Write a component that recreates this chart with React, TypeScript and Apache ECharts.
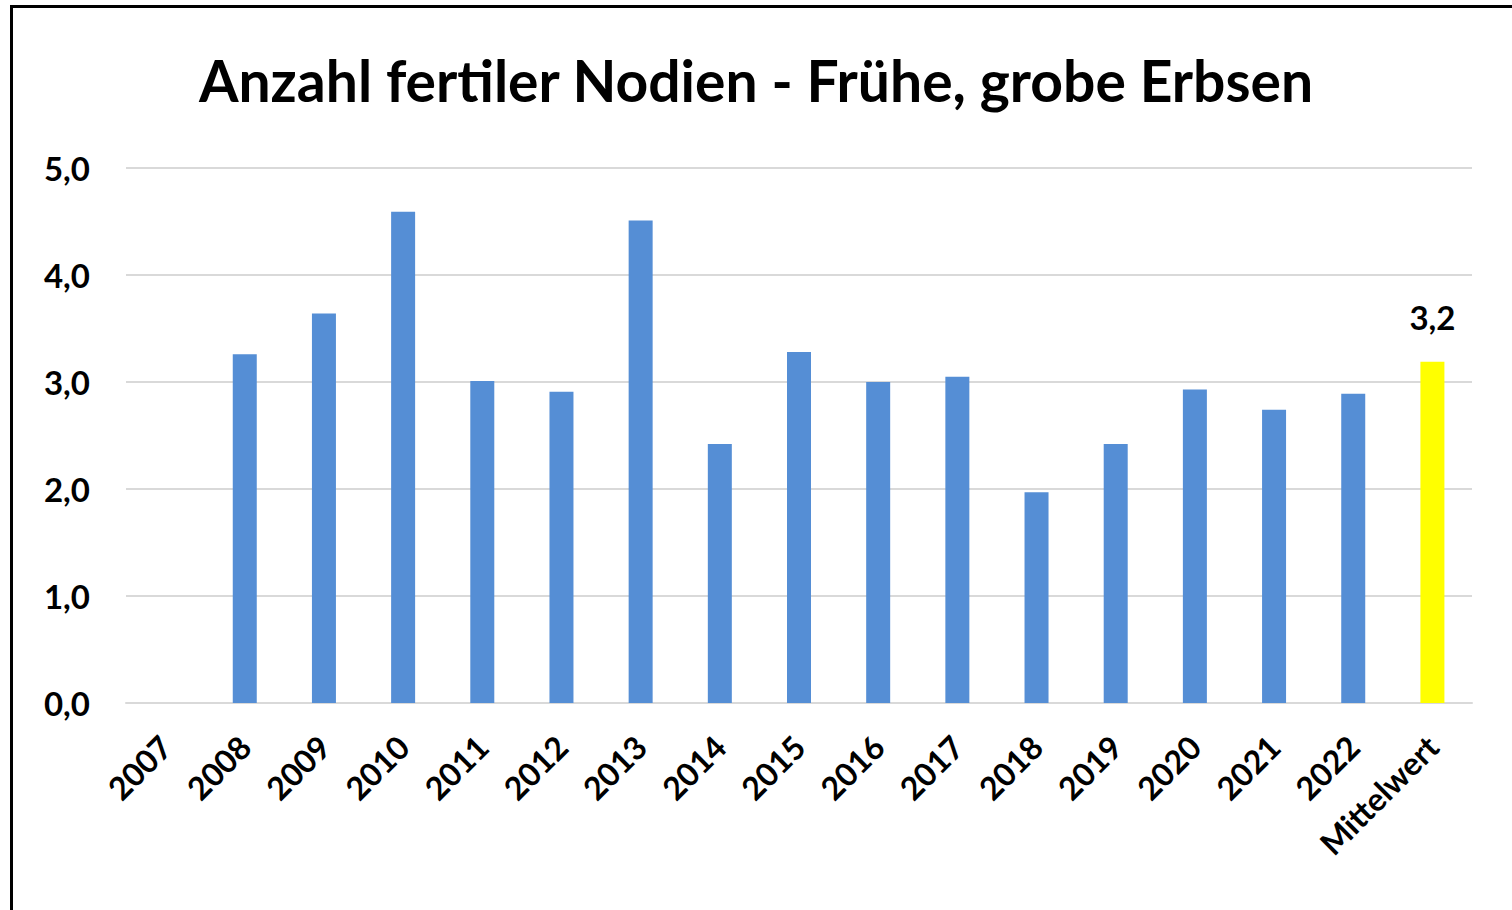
import React, { useEffect, useRef } from "react";
import * as echarts from "echarts";

const categories = ["2007", "2008", "2009", "2010", "2011", "2012", "2013", "2014", "2015", "2016", "2017", "2018", "2019", "2020", "2021", "2022", "Mittelwert"];
const values: (number | null)[] = [null, 3.26, 3.64, 4.59, 3.01, 2.91, 4.51, 2.42, 3.28, 3.0, 3.05, 1.97, 2.42, 2.93, 2.74, 2.89, 3.19];
const yTicks = [0, 1, 2, 3, 4, 5];
const title = "Anzahl fertiler Nodien - Frühe, grobe Erbsen";

const FONT = "Lato";

export default function App() {
  const ref = useRef<HTMLDivElement>(null);
  useEffect(() => {
    if (!ref.current) return;
    const chart = echarts.init(ref.current, undefined, { renderer: "svg" });
    const last = categories.length - 1;
    chart.setOption({
      animation: false,
      backgroundColor: "#ffffff",
      title: {
        text: title,
        left: "center",
        top: 46,
        textStyle: { fontFamily: FONT, fontWeight: "bold", fontSize: 57, color: "#000" },
      },
      graphic: [
        {
          type: "rect",
          shape: { x: 11.5, y: 6.5, width: 1510, height: 920 },
          style: { fill: "none", stroke: "#000", lineWidth: 3 },
          silent: true,
        },
      ],
      grid: { left: 126, right: 40, top: 168, bottom: 207, containLabel: false },
      xAxis: {
        type: "category",
        data: categories,
        axisLine: { show: true, lineStyle: { color: "#d9d9d9", width: 2 } },
        axisTick: { show: false },
        axisLabel: {
          rotate: 45,
          interval: 0,
          margin: 38,
          fontFamily: FONT,
          fontWeight: "bold",
          fontSize: 32,
          color: "#000",
        },
      },
      yAxis: {
        type: "value",
        min: yTicks[0],
        max: yTicks[yTicks.length - 1],
        interval: 1,
        axisLine: { show: false },
        axisTick: { show: false },
        splitLine: { lineStyle: { color: "#d9d9d9", width: 2 } },
        axisLabel: {
          margin: 36,
          fontFamily: FONT,
          fontWeight: "bold",
          fontSize: 33,
          color: "#000",
          formatter: (v: number) => v.toFixed(1).replace(".", ","),
        },
      },
      series: [
        {
          type: "bar",
          barWidth: 24,
          data: values.map((v, i) =>
            i === last
              ? {
                  value: v,
                  itemStyle: { color: "#FFFF00" },
                  label: {
                    show: true,
                    position: "top",
                    distance: 28,
                    fontFamily: FONT,
                    fontWeight: "bold",
                    fontSize: 33,
                    color: "#000",
                    formatter: (p: any) => Number(p.value).toFixed(1).replace(".", ","),
                  },
                }
              : { value: v, itemStyle: { color: "#558ED5" } }
          ),
        },
      ],
    });
    return () => chart.dispose();
  }, []);
  return (
    <div
      ref={ref}
      style={{ position: "fixed", left: 0, top: 0, width: 1512, height: 910 }}
    />
  );
}
